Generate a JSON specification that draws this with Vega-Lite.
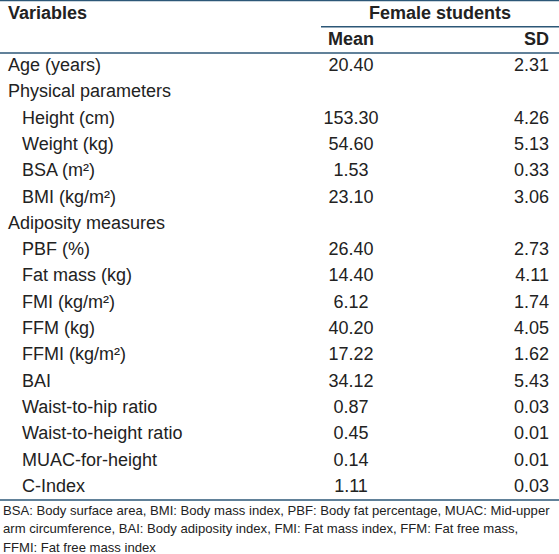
{
  "$schema": "https://vega.github.io/schema/vega-lite/v6.json",
  "width": 559,
  "height": 554,
  "autosize": {"type": "none"},
  "padding": 0,
  "background": "white",
  "config": {"view": {"stroke": null}, "font": "Liberation Sans"},
  "datasets": {
    "rows": [
      {"row": 0, "variable": "Age (years)", "level": "group", "mean": 20.40, "sd": 2.31},
      {"row": 1, "variable": "Physical parameters", "level": "group", "mean": null, "sd": null},
      {"row": 2, "variable": "Height (cm)", "level": "item", "mean": 153.30, "sd": 4.26},
      {"row": 3, "variable": "Weight (kg)", "level": "item", "mean": 54.60, "sd": 5.13},
      {"row": 4, "variable": "BSA (m²)", "level": "item", "mean": 1.53, "sd": 0.33},
      {"row": 5, "variable": "BMI (kg/m²)", "level": "item", "mean": 23.10, "sd": 3.06},
      {"row": 6, "variable": "Adiposity measures", "level": "group", "mean": null, "sd": null},
      {"row": 7, "variable": "PBF (%)", "level": "item", "mean": 26.40, "sd": 2.73},
      {"row": 8, "variable": "Fat mass (kg)", "level": "item", "mean": 14.40, "sd": 4.11},
      {"row": 9, "variable": "FMI (kg/m²)", "level": "item", "mean": 6.12, "sd": 1.74},
      {"row": 10, "variable": "FFM (kg)", "level": "item", "mean": 40.20, "sd": 4.05},
      {"row": 11, "variable": "FFMI (kg/m²)", "level": "item", "mean": 17.22, "sd": 1.62},
      {"row": 12, "variable": "BAI", "level": "item", "mean": 34.12, "sd": 5.43},
      {"row": 13, "variable": "Waist-to-hip ratio", "level": "item", "mean": 0.87, "sd": 0.03},
      {"row": 14, "variable": "Waist-to-height ratio", "level": "item", "mean": 0.45, "sd": 0.01},
      {"row": 15, "variable": "MUAC-for-height", "level": "item", "mean": 0.14, "sd": 0.01},
      {"row": 16, "variable": "C-Index", "level": "item", "mean": 1.11, "sd": 0.03}
    ],
    "note": [
      {"text": "BSA: Body surface area, BMI: Body mass index, PBF: Body fat percentage, MUAC: Mid-upper\narm circumference, BAI: Body adiposity index, FMI: Fat mass index, FFM: Fat free mass,\nFFMI: Fat free mass index"}
    ]
  },
  "encoding": {
    "y": {"type": "quantitative", "scale": {"domain": [-2.516, 18.556], "range": [0, 554], "nice": false, "zero": false}, "axis": null},
    "x": {"type": "quantitative", "scale": {"domain": [0, 559], "range": [0, 559], "nice": false, "zero": false}, "axis": null}
  },
  "layer": [
    {
      "data": {"values": [{"b": -2.5, "x0": 0, "x1": 559}, {"b": -1.5, "x0": 321, "x1": 559}, {"b": -0.5, "x0": 0, "x1": 559}, {"b": 16.5, "x0": 0, "x1": 559}]},
      "mark": {"type": "rule", "stroke": "#2c5777", "strokeWidth": 1.5},
      "encoding": {"y": {"field": "b"}, "x": {"field": "x0"}, "x2": {"field": "x1"}}
    },
    {
      "data": {"values": [{"r": -2, "t": "Variables"}]},
      "mark": {"type": "text", "align": "left", "baseline": "middle", "fontSize": 18, "fontWeight": "bold", "fill": "#222222"},
      "encoding": {"y": {"field": "r"}, "x": {"datum": 8}, "text": {"field": "t"}}
    },
    {
      "data": {"values": [{"r": -2, "t": "Female students"}]},
      "mark": {"type": "text", "align": "center", "baseline": "middle", "fontSize": 18, "fontWeight": "bold", "fill": "#222222"},
      "encoding": {"y": {"field": "r"}, "x": {"datum": 440}, "text": {"field": "t"}}
    },
    {
      "data": {"values": [{"r": -1, "t": "Mean"}]},
      "mark": {"type": "text", "align": "center", "baseline": "middle", "fontSize": 18, "fontWeight": "bold", "fill": "#222222"},
      "encoding": {"y": {"field": "r"}, "x": {"datum": 351}, "text": {"field": "t"}}
    },
    {
      "data": {"values": [{"r": -1, "t": "SD"}]},
      "mark": {"type": "text", "align": "right", "baseline": "middle", "fontSize": 18, "fontWeight": "bold", "fill": "#222222"},
      "encoding": {"y": {"field": "r"}, "x": {"datum": 549}, "text": {"field": "t"}}
    },
    {
      "data": {"name": "rows"},
      "transform": [{"filter": "datum.level === 'group'"}],
      "mark": {"type": "text", "align": "left", "baseline": "middle", "fontSize": 18, "fill": "#222222"},
      "encoding": {"y": {"field": "row"}, "x": {"datum": 8}, "text": {"field": "variable"}}
    },
    {
      "data": {"name": "rows"},
      "transform": [{"filter": "datum.level === 'item'"}],
      "mark": {"type": "text", "align": "left", "baseline": "middle", "fontSize": 18, "fill": "#222222"},
      "encoding": {"y": {"field": "row"}, "x": {"datum": 22}, "text": {"field": "variable"}}
    },
    {
      "data": {"name": "rows"},
      "transform": [{"filter": "datum.mean != null"}],
      "mark": {"type": "text", "align": "center", "baseline": "middle", "fontSize": 18, "fill": "#222222"},
      "encoding": {"y": {"field": "row"}, "x": {"datum": 351}, "text": {"field": "mean", "type": "quantitative", "format": ".2f"}}
    },
    {
      "data": {"name": "rows"},
      "transform": [{"filter": "datum.sd != null"}],
      "mark": {"type": "text", "align": "right", "baseline": "middle", "fontSize": 18, "fill": "#222222"},
      "encoding": {"y": {"field": "row"}, "x": {"datum": 549}, "text": {"field": "sd", "type": "quantitative", "format": ".2f"}}
    },
    {
      "data": {"name": "note"},
      "mark": {"type": "text", "align": "left", "baseline": "top", "fontSize": 13.1, "lineHeight": 18.5, "lineBreak": "\n", "fill": "#222222", "dy": 5},
      "encoding": {"y": {"datum": 16.5}, "x": {"datum": 3}, "text": {"field": "text"}}
    }
  ]
}
